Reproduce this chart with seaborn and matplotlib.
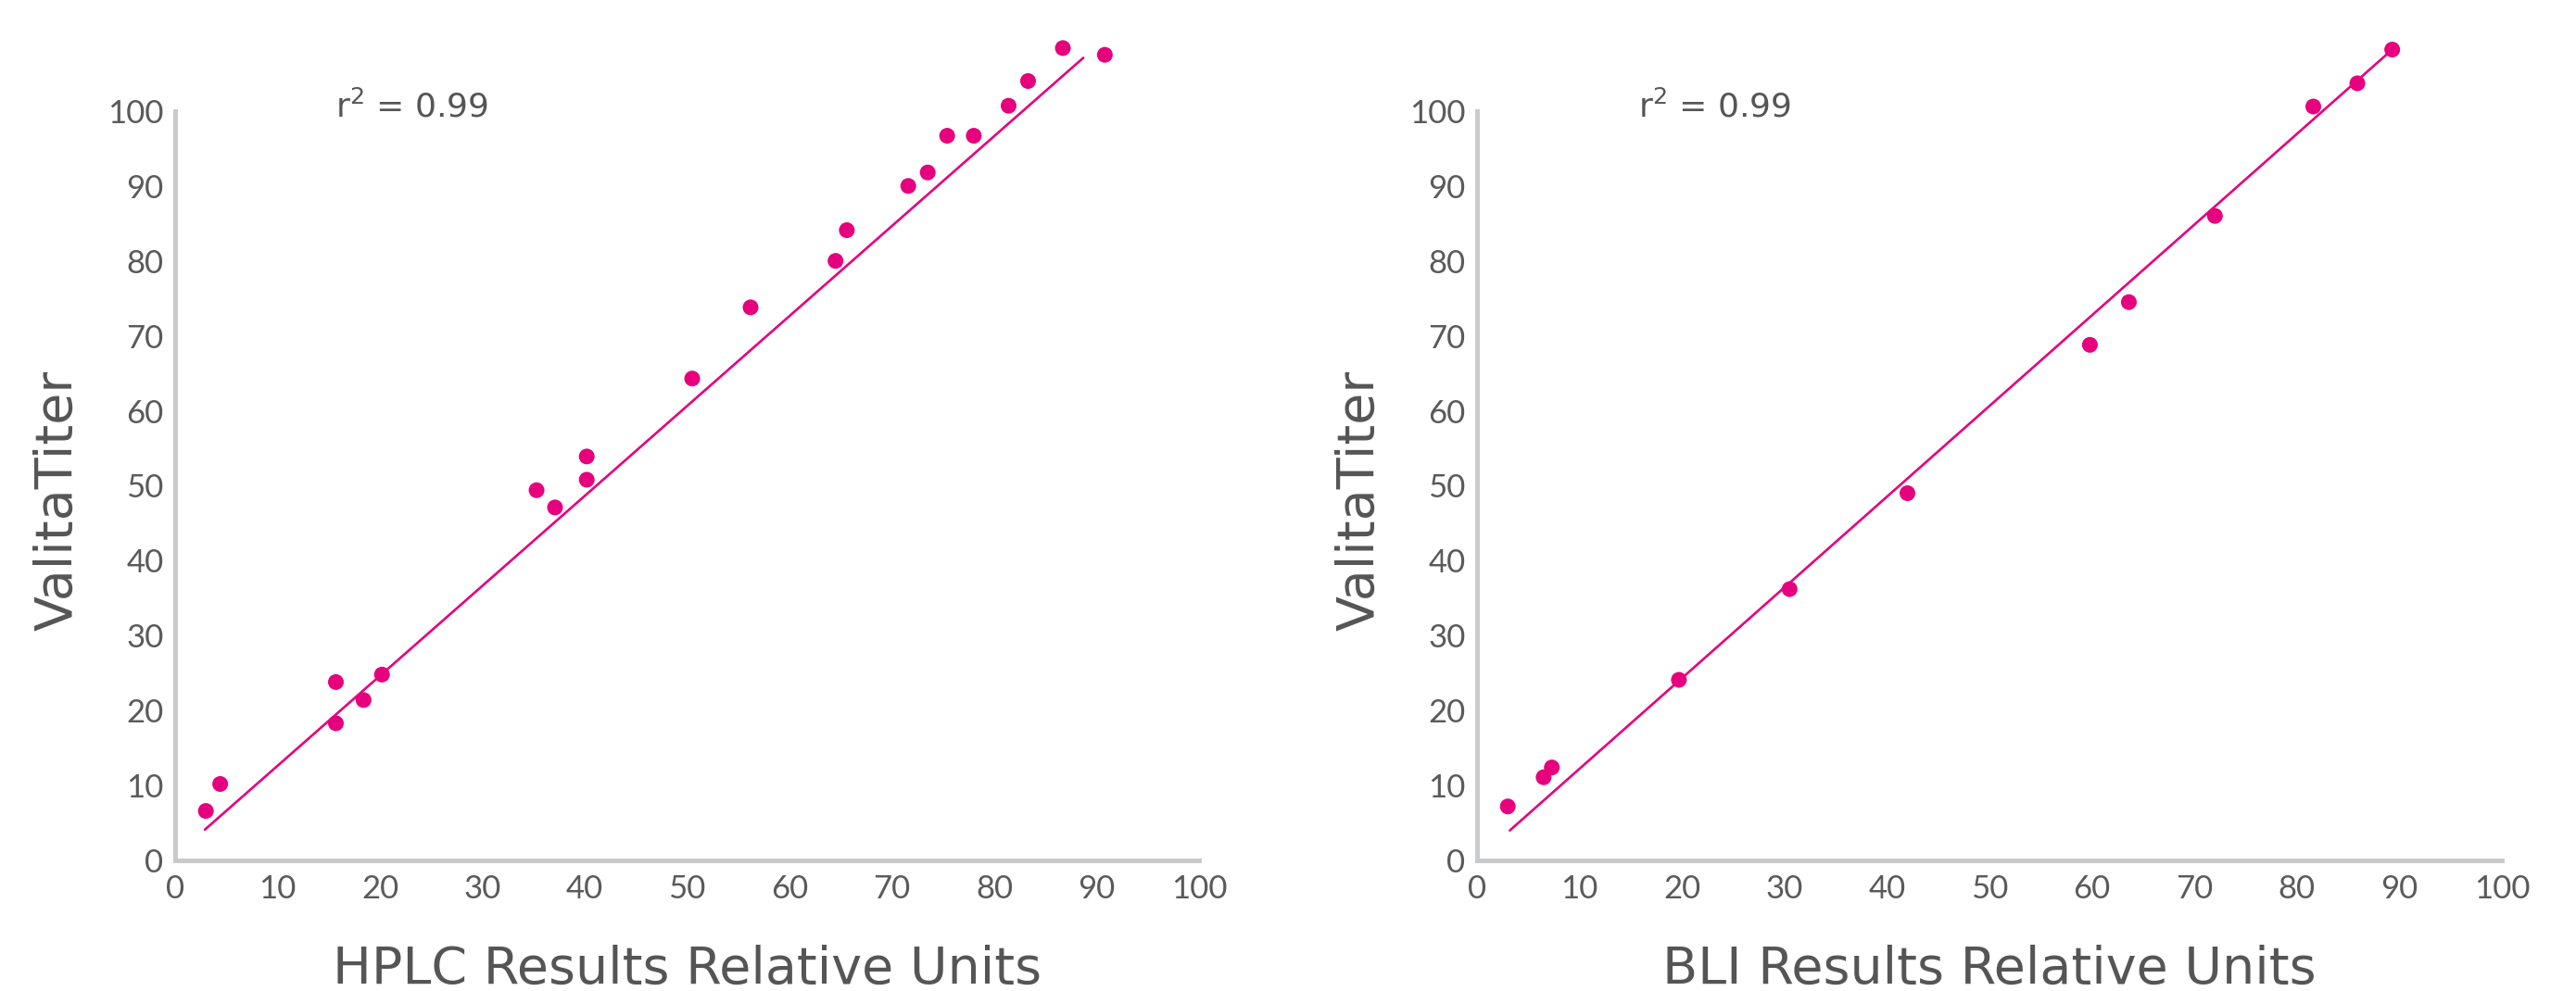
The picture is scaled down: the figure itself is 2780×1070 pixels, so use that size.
import matplotlib
matplotlib.use("Agg")
import matplotlib.pyplot as plt
import seaborn as sns

# Datos
hplc_x = [3.0, 4.4, 15.7, 15.7, 18.4, 20.2, 35.3, 37.1, 40.2, 40.2, 50.5, 56.2,
          64.5, 65.6, 71.6, 73.5, 75.4, 78.0, 81.4, 83.3, 86.7, 90.8]
hplc_y = [6.6, 10.2, 23.8, 18.3, 21.4, 24.8, 49.4, 47.1, 53.9, 50.8, 64.3, 73.8,
          80.0, 84.1, 90.0, 91.8, 96.7, 96.7, 100.7, 104.0, 108.4, 107.5]
hplc_fit_x = [2.9, 88.7]
hplc_fit_y = [4.1, 107.1]

bli_x = [3.0, 6.5, 7.3, 19.7, 30.5, 42.0, 59.8, 63.6, 72.0, 81.6, 85.9, 89.3]
bli_y = [7.2, 11.1, 12.4, 24.1, 36.2, 49.0, 68.8, 74.5, 86.0, 100.6, 103.7, 108.2]
bli_fit_x = [3.2, 89.3]
bli_fit_y = [4.0, 108.2]

ticks = list(range(0, 101, 10))
r2_text = "r$^2$ = 0.99"
y_title = "ValitaTiter"
x_titles = ["HPLC Results Relative Units", "BLI Results Relative Units"]

pink = "#e6007e"
gray_axis = "#c9cacc"
gray_text = "#555555"

sns.set_style("white")
plt.rcParams["font.family"] = ["Lato", "DejaVu Sans"]
plt.rcParams["mathtext.fontset"] = "dejavusans"

fig = plt.figure(figsize=(27.8, 10.7), dpi=100)
W, H = 2780, 1070
ax1 = fig.add_axes([189 / W, 141 / H, 1105 / W, 930.5 / H])
ax2 = fig.add_axes([1594 / W, 141 / H, 1106 / W, 930.5 / H])

panels = [
    (ax1, hplc_x, hplc_y, hplc_fit_x, hplc_fit_y, x_titles[0]),
    (ax2, bli_x, bli_y, bli_fit_x, bli_fit_y, x_titles[1]),
]

for ax, xs, ys, fx, fy, xt in panels:
    sns.lineplot(x=fx, y=fy, ax=ax, color=pink, linewidth=1.9)
    sns.scatterplot(x=xs, y=ys, ax=ax, color=pink, s=150, edgecolor="none",
                    zorder=3, clip_on=False)
    ax.set_xlim(0, 100)
    ax.set_ylim(0, 115)
    ax.set_xticks(ticks)
    ax.set_yticks(ticks)
    ax.tick_params(length=0, labelsize=25, labelcolor="#5a5a5a")
    ax.tick_params(axis="x", pad=11)
    ax.tick_params(axis="y", pad=9)
    for side in ["top", "right"]:
        ax.spines[side].set_visible(False)
    for side in ["left", "bottom"]:
        sp = ax.spines[side]
        sp.set_bounds(0, 100)
        sp.set_color(gray_axis)
        sp.set_linewidth(3.6)
        sp.set_capstyle("projecting")
    ax.set_xlabel(xt, fontsize=40, color=gray_text, labelpad=31,
                  family="DejaVu Sans")
    ax.set_ylabel(y_title, fontsize=40, color=gray_text, family="DejaVu Sans")
    ax.yaxis.set_label_coords(-0.09, 0.418)
    ax.text(15.7, 100.6, r2_text, fontsize=26, color=gray_text, va="center",
            ha="left", family="DejaVu Sans")
    ax.set_facecolor("white")

fig.savefig("out.png", dpi=100, facecolor="white")
